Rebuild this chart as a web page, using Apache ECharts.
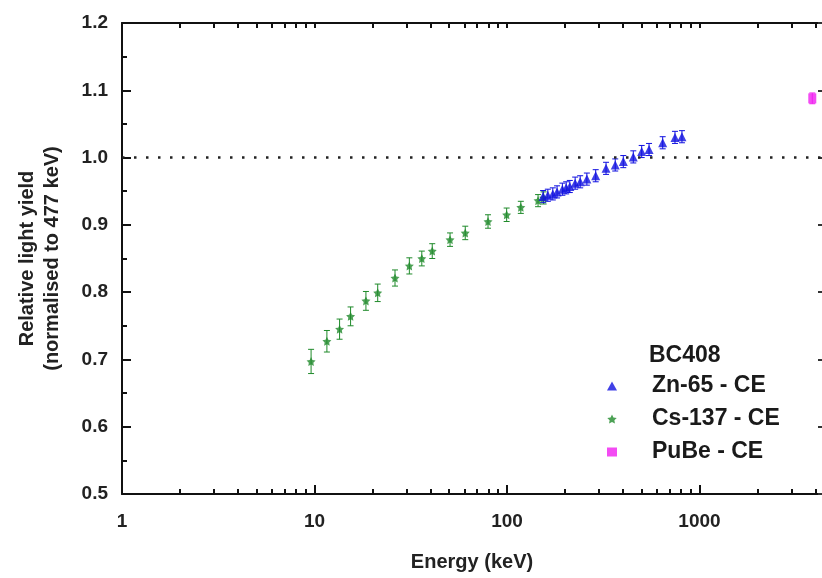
<!DOCTYPE html>
<html>
<head>
<meta charset="utf-8">
<script src="https://cdn.jsdelivr.net/npm/echarts@6/dist/echarts.min.js"></script>
<style>
  html, body { margin: 0; padding: 0; background: #fff; }
  #chart { width: 822px; height: 578px; }
</style>
</head>
<body>
<div id="chart"></div>
<script>
// Cs-137 Compton edge points (energy keV, relative light yield, error)
const csEnergy = [9.6, 11.6, 13.5, 15.4, 18.5, 21.3, 26.2, 31.1, 36.1, 40.9, 50.6, 60.7, 79.7, 99.6, 118, 145, 155];
const csYield = [0.697, 0.727, 0.745, 0.764, 0.787, 0.799, 0.821, 0.839, 0.850, 0.861, 0.878, 0.888, 0.905, 0.915, 0.926, 0.936, 0.940];
const csErr = [0.018, 0.016, 0.015, 0.014, 0.014, 0.013, 0.012, 0.012, 0.011, 0.011, 0.010, 0.010, 0.010, 0.010, 0.009, 0.009, 0.009];

// Zn-65 Compton edge points
const znEnergy = [154, 163, 173, 182, 194, 203, 212, 226, 240, 260, 289, 327, 365, 402, 453, 501, 547, 644, 746, 811];
const znYield = [0.942, 0.944, 0.946, 0.949, 0.953, 0.955, 0.957, 0.962, 0.964, 0.968, 0.973, 0.984, 0.989, 0.994, 1.001, 1.009, 1.012, 1.022, 1.030, 1.031];
const znErr = [0.009, 0.009, 0.009, 0.009, 0.009, 0.009, 0.009, 0.009, 0.009, 0.009, 0.009, 0.009, 0.009, 0.009, 0.009, 0.009, 0.009, 0.009, 0.009, 0.009];

// PuBe Compton edge point
const pubeEnergy = [3855];
const pubeYield = [1.088];
const pubeErr = [0.008];

const yTicks = [0.5, 0.6, 0.7, 0.8, 0.9, 1.0, 1.1, 1.2];
const xMajor = [1, 10, 100, 1000];
const xLabels = [1, 10, 100, 1000];
const xMinor = [];
[1, 10, 100, 1000].forEach(d => { for (let k = 2; k <= 9; k++) xMinor.push(d * k); });
// the figure is cut at the right edge, around 4.3 MeV
const X_MAX = 4330;

const FONT = '"Liberation Sans", Arial, sans-serif';
const BLUE = '#1010e0';
const GREEN = '#1f8a2a';
const PINK = '#f01ef0';
const STAR = 'path://M0,-10L2.9,-4L9.5,-3.1L4.8,1.5L5.9,8.1L0,5L-5.9,8.1L-4.8,1.5L-9.5,-3.1L-2.9,-4Z';

const chart = echarts.init(document.getElementById('chart'));

const pts = (xs, ys) => xs.map((x, i) => [x, ys[i]]);
const bars = (xs, ys, es) => xs.map((x, i) => [x, ys[i] - es[i], ys[i] + es[i]]);

// vertical error bar with small caps
const errBar = color => (params, api) => {
	const x = api.value(0);
	const lo = api.coord([x, api.value(1)]);
	const hi = api.coord([x, api.value(2)]);
	const w = 3;
	const st = { stroke: color, lineWidth: 1 };
	return {
		type: 'group',
		children: [
			{ type: 'line', shape: { x1: lo[0], y1: lo[1], x2: hi[0], y2: hi[1] }, style: st },
			{ type: 'line', shape: { x1: lo[0] - w, y1: lo[1], x2: lo[0] + w, y2: lo[1] }, style: st },
			{ type: 'line', shape: { x1: hi[0] - w, y1: hi[1], x2: hi[0] + w, y2: hi[1] }, style: st },
		],
	};
};

const baseX = {
	type: 'log',
	logBase: 10,
	min: 1,
	max: X_MAX,
	gridIndex: 0,
	splitLine: { show: false },
	minorSplitLine: { show: false },
};

const option = {
	animation: false,
	backgroundColor: '#fff',
	textStyle: { fontFamily: FONT },
	grid: { left: 122, top: 23, right: 0, height: 471 },
	xAxis: [
		{
			...baseX,
			position: 'bottom',
			name: 'Energy (keV)',
			nameLocation: 'middle',
			nameGap: 58,
			nameTextStyle: { fontSize: 20, fontWeight: 'bold', color: '#222', fontFamily: FONT },
			axisLine: { lineStyle: { color: '#111', width: 2 } },
			axisTick: { inside: true, length: 9, customValues: xMajor, lineStyle: { color: '#111', width: 2 } },
			axisLabel: {
				customValues: xLabels,
				margin: 18,
				fontSize: 19,
				fontWeight: 'bold',
				color: '#222',
				fontFamily: FONT,
				formatter: v => String(Math.round(v)),
			},
		},
		{
			...baseX,
			position: 'bottom',
			axisLine: { show: false },
			axisTick: { inside: true, length: 5, customValues: xMinor, lineStyle: { color: '#111', width: 2 } },
			axisLabel: { show: false },
		},
		{
			...baseX,
			position: 'top',
			axisLine: { lineStyle: { color: '#111', width: 2 } },
			axisTick: { inside: true, length: 5, customValues: xMinor.concat(xMajor), lineStyle: { color: '#111', width: 2 } },
			axisLabel: { show: false },
		},
	],
	yAxis: [
		{
			type: 'value',
			min: 0.5,
			max: 1.2,
			interval: 0.1,
			name: 'Relative light yield\n(normalised to 477 keV)',
			nameLocation: 'middle',
			nameGap: 57,
			nameTextStyle: { fontSize: 20, fontWeight: 'bold', color: '#222', lineHeight: 25, fontFamily: FONT },
			axisLine: { show: true, lineStyle: { color: '#111', width: 2 } },
			axisTick: { inside: true, length: 9, lineStyle: { color: '#111', width: 2 } },
			minorTick: { show: true, splitNumber: 2, length: 5, lineStyle: { color: '#111', width: 2 } },
			splitLine: { show: false },
			axisLabel: {
				margin: 14,
				fontSize: 19,
				fontWeight: 'bold',
				color: '#222',
				fontFamily: FONT,
				formatter: v => (yTicks.includes(+v.toFixed(1)) ? v.toFixed(1) : ''),
			},
		},
		{
			// right frame sits just past the cut; only its tick stubs show
			type: 'value',
			position: 'right',
			min: 0.5,
			max: 1.2,
			interval: 0.1,
			axisLine: { show: false },
			axisTick: { inside: true, length: 4, lineStyle: { color: '#333', width: 2 } },
			axisLabel: { show: false },
			splitLine: { show: false },
		},
	],
	legend: {
		orient: 'vertical',
		left: 602,
		top: 369,
		itemWidth: 10,
		itemHeight: 9,
		itemGap: 9,
		textStyle: { fontSize: 23, fontWeight: 'bold', color: '#1a1a1a', lineHeight: 24, padding: [0, 0, 0, 30], fontFamily: FONT },
		data: [
			{ name: 'Zn-65 - CE', icon: 'triangle' },
			{ name: 'Cs-137 - CE', icon: STAR },
			{ name: 'PuBe - CE', icon: 'rect' },
		],
	},
	graphic: [
		{
			type: 'text',
			left: 649,
			top: 344,
			style: { text: 'BC408', font: 'bold 23px ' + FONT, fill: '#1a1a1a' },
		},
	],
	series: [
		{
			name: 'ref',
			type: 'line',
			data: [],
			markLine: {
				silent: true,
				symbol: 'none',
				label: { show: false },
				lineStyle: { color: '#222', width: 2.5, type: [2.5, 9.5] },
				data: [{ yAxis: 1.0 }],
			},
		},
		{
			name: 'Cs-137 err',
			type: 'custom',
			renderItem: errBar(GREEN),
			encode: { x: 0, y: [1, 2] },
			data: bars(csEnergy, csYield, csErr),
			z: 2,
		},
		{
			name: 'Zn-65 err',
			type: 'custom',
			renderItem: errBar(BLUE),
			encode: { x: 0, y: [1, 2] },
			data: bars(znEnergy, znYield, znErr),
			z: 2,
		},
		{
			name: 'PuBe err',
			type: 'custom',
			renderItem: errBar(PINK),
			encode: { x: 0, y: [1, 2] },
			data: bars(pubeEnergy, pubeYield, pubeErr),
			z: 2,
		},
		{
			name: 'Cs-137 - CE',
			type: 'scatter',
			symbol: STAR,
			symbolSize: 9,
			itemStyle: { color: GREEN },
			data: pts(csEnergy, csYield),
			z: 3,
		},
		{
			name: 'Zn-65 - CE',
			type: 'scatter',
			symbol: 'triangle',
			symbolSize: 9,
			itemStyle: { color: BLUE },
			data: pts(znEnergy, znYield),
			z: 4,
		},
		{
			name: 'PuBe - CE',
			type: 'scatter',
			symbol: 'rect',
			symbolSize: [8, 10],
			itemStyle: { color: PINK },
			data: pts(pubeEnergy, pubeYield),
			z: 4,
		},
	],
};

chart.setOption(option);
</script>
</body>
</html>
